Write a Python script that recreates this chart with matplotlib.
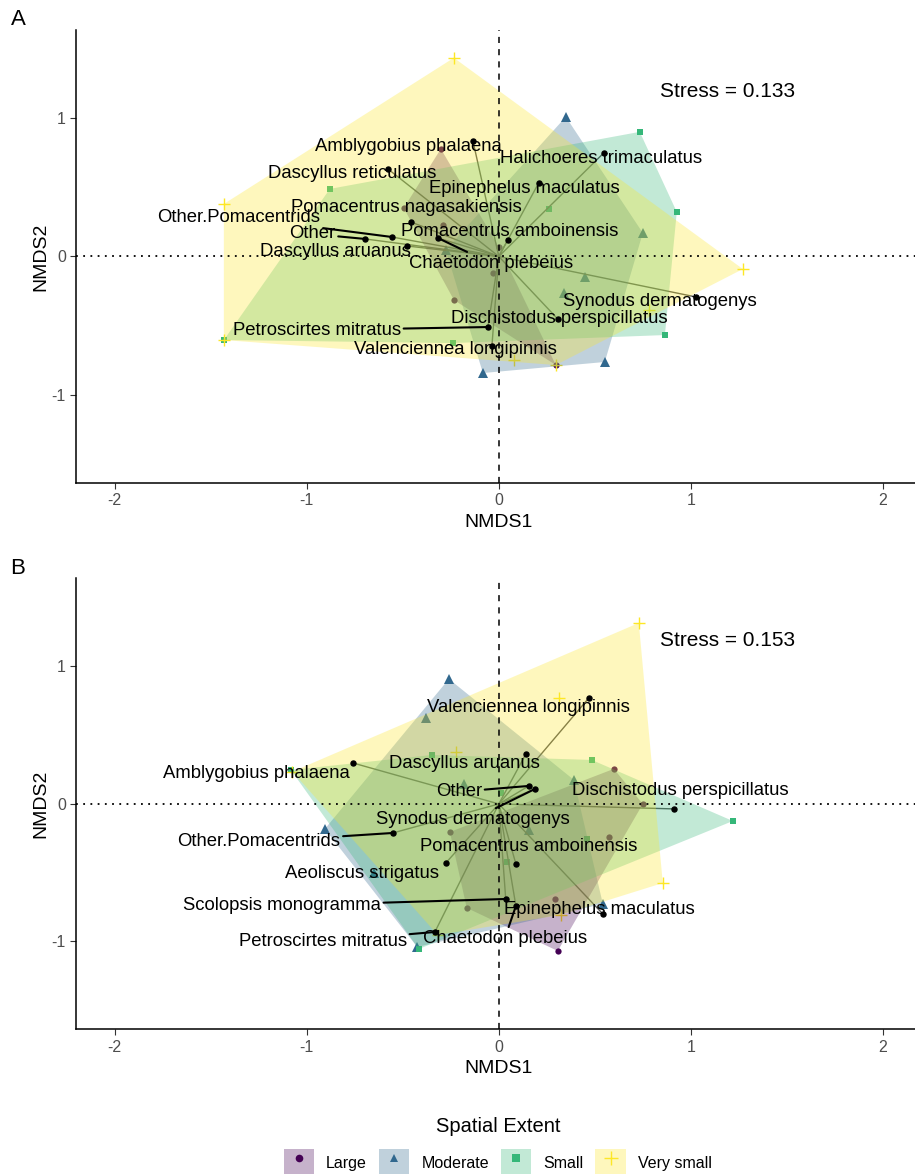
import matplotlib
matplotlib.use("Agg")
import matplotlib.pyplot as plt
from matplotlib.lines import Line2D
from matplotlib.patches import Patch, Polygon

plt.rcParams["font.family"] = ["Liberation Sans", "DejaVu Sans"]
plt.rcParams["axes.unicode_minus"] = False

GROUPS = ["Large", "Moderate", "Small", "Very small"]
GROUP_COLORS = ["#440154", "#31688E", "#35B779", "#FDE725"]
GROUP_MARKERS = ["o", "^", "s", "+"]
GROUP_MS = [4.5, 6.5, 5.0, 8.0]
FILL_ALPHA = 0.3

# ---------- Panel A: site scores per spatial extent ----------
a_large_x = [-0.302, -0.495, -0.292, -0.234, 0.0, -0.031, 0.297]
a_large_y = [0.779, 0.351, 0.228, -0.315, 0.069, -0.120, -0.786]
a_moderate_x = [0.349, 0.750, 0.552, -0.083, 0.448, 0.339, -0.276]
a_moderate_y = [1.011, 0.170, -0.764, -0.844, -0.149, -0.264, 0.047]
a_small_x = [0.734, 0.927, 0.865, -0.880, -1.432, -0.240, 0.260]
a_small_y = [0.902, 0.322, -0.569, 0.489, -0.605, -0.627, 0.344]
a_vsmall_x = [-1.432, -0.234, 1.271, -1.432, 0.297, 0.781, 0.078]
a_vsmall_y = [0.380, 1.438, -0.091, -0.605, -0.786, -0.388, -0.750]

# species vectors (panel A)
a_species = ["Amblygobius phalaena", "Dascyllus reticulatus", "Halichoeres trimaculatus",
             "Epinephelus maculatus", "Pomacentrus nagasakiensis", "Other.Pomacentrids",
             "Other", "Pomacentrus amboinensis", "Dascyllus aruanus", "Chaetodon plebeius",
             "Synodus dermatogenys", "Dischistodus perspicillatus", "Petroscirtes mitratus",
             "Valenciennea longipinnis"]
a_species_x = [-0.135, -0.578, 0.547, 0.208, -0.458, -0.557, -0.698, 0.047, -0.479, -0.318,
               1.026, 0.307, -0.057, -0.036]
a_species_y = [0.837, 0.634, 0.750, 0.533, 0.250, 0.141, 0.127, 0.120, 0.076, 0.134,
               -0.293, -0.453, -0.511, -0.649]
# repelled label positions (panel A) and whether a leader segment is drawn
a_label_x = [-0.469, -0.763, 0.531, 0.135, -0.479, -1.354, -0.971, 0.057, -0.849, -0.042,
             0.839, 0.313, -0.948, -0.224]
a_label_y = [0.796, 0.603, 0.712, 0.494, 0.357, 0.284, 0.163, 0.178, 0.035, -0.049,
             -0.328, -0.448, -0.533, -0.672]
a_leader = [False, False, False, False, False, True, True, False, False, True,
            False, False, True, False]
a_stress = 0.133

# ---------- Panel B ----------
b_large_x = [0.307, 0.599, 0.750, 0.573, 0.292, -0.167, -0.255]
b_large_y = [-1.069, 0.255, 0.0, -0.240, -0.691, -0.756, -0.204]
b_moderate_x = [-0.260, -0.380, -0.906, -0.651, 0.542, 0.391, -0.182, 0.156, -0.425]
b_moderate_y = [0.909, 0.625, -0.182, -0.502, -0.727, 0.175, 0.145, -0.189, -1.040]
b_small_x = [0.484, 1.219, -0.417, -1.083, -0.349, 0.458, 0.042, 0.010]
b_small_y = [0.320, -0.124, -1.055, 0.247, 0.356, -0.255, -0.422, 0.080]
b_vsmall_x = [0.729, 0.313, -0.224, 0.854, -1.075, -0.318, 0.323]
b_vsmall_y = [1.316, 0.771, 0.378, -0.575, 0.235, -0.953, -0.807]

b_species = ["Valenciennea longipinnis", "Dascyllus aruanus", "Amblygobius phalaena",
             "Other", "Synodus dermatogenys", "Dischistodus perspicillatus",
             "Other.Pomacentrids", "Pomacentrus amboinensis", "Aeoliscus strigatus",
             "Scolopsis monogramma", "Epinephelus maculatus", "Chaetodon plebeius",
             "Petroscirtes mitratus"]
b_species_x = [0.469, 0.141, -0.760, 0.156, 0.188, 0.911, -0.552, 0.089, -0.276, 0.036,
               0.542, 0.089, -0.333]
b_species_y = [0.771, 0.364, 0.298, 0.131, 0.109, -0.036, -0.211, -0.436, -0.429, -0.691,
               -0.800, -0.742, -0.931]
b_label_x = [0.156, -0.177, -1.263, -0.208, -0.135, 0.943, -1.250, 0.156, -0.714, -1.130,
             0.526, 0.031, -0.917]
b_label_y = [0.700, 0.291, 0.223, 0.089, -0.113, 0.095, -0.274, -0.313, -0.509, -0.740,
             -0.771, -0.977, -1.001]
b_leader = [False, False, False, True, True, False, True, False, False, True,
            False, True, True]
b_stress = 0.153

XLIM = (-2.2, 2.2)
YLIM = (-1.64, 1.64)


def convex_hull(xs, ys):
    pts = sorted(set(zip(xs, ys)))
    if len(pts) < 3:
        return pts

    def cross(o, a, b):
        return (a[0] - o[0]) * (b[1] - o[1]) - (a[1] - o[1]) * (b[0] - o[0])

    lower = []
    for p in pts:
        while len(lower) >= 2 and cross(lower[-2], lower[-1], p) <= 0:
            lower.pop()
        lower.append(p)
    upper = []
    for p in reversed(pts):
        while len(upper) >= 2 and cross(upper[-2], upper[-1], p) <= 0:
            upper.pop()
        upper.append(p)
    return lower[:-1] + upper[:-1]


def draw_panel(ax, groups_xy, sp_names, sp_x, sp_y, lab_x, lab_y, leaders, stress):
    ax.set_xlim(*XLIM)
    ax.set_ylim(*YLIM)

    # site points (under the hulls, like ggplot layer order)
    for (gx, gy), col, mk, ms in zip(groups_xy, GROUP_COLORS, GROUP_MARKERS, GROUP_MS):
        mew = 1.0 if mk == "+" else 0
        ax.plot(gx, gy, ls="", marker=mk, ms=ms, color=col, mew=mew, zorder=2)

    # species vectors from origin
    for x, y in zip(sp_x, sp_y):
        ax.plot([0, x], [0, y], color="#555555", lw=1.0, zorder=2.5)

    # hulls
    for (gx, gy), col in zip(groups_xy, GROUP_COLORS):
        hull = convex_hull(gx, gy)
        ax.add_patch(Polygon(hull, closed=True, facecolor=col, alpha=FILL_ALPHA,
                             edgecolor="none", zorder=3))

    ax.axvline(0, color="black", lw=1.1, ls=(0, (4, 4)), zorder=4)
    ax.axhline(0, color="black", lw=1.3, ls=(0, (1, 3)), zorder=4)

    ax.plot(sp_x, sp_y, ls="", marker="o", ms=3.6, color="black", zorder=5)

    for name, x, y, lx, ly, lead in zip(sp_names, sp_x, sp_y, lab_x, lab_y, leaders):
        arrow = None
        if lead:
            arrow = dict(arrowstyle="-", color="black", lw=1.5, shrinkA=0, shrinkB=0)
        ax.annotate(name, xy=(x, y), xytext=(lx, ly), fontsize=13.3, ha="center",
                    va="center", color="black", zorder=6, arrowprops=arrow)

    ax.text(1.193, 1.192, f"Stress = {stress}", fontsize=15, ha="center", va="center")

    ax.set_xticks([-2, -1, 0, 1, 2])
    ax.set_yticks([-1, 0, 1])
    ax.tick_params(labelsize=11.5, labelcolor="#4D4D4D", color="#333333", length=4, width=0.8)
    ax.set_xlabel("NMDS1", fontsize=14)
    ax.set_ylabel("NMDS2", fontsize=14, labelpad=2)
    for side in ["top", "right"]:
        ax.spines[side].set_visible(False)
    for side in ["left", "bottom"]:
        ax.spines[side].set_linewidth(1.1)


fig = plt.figure(figsize=(9.15, 11.74), dpi=100)
ax_a = fig.add_axes([0.0835, 0.5886, 0.9233, 0.3859])
ax_b = fig.add_axes([0.0835, 0.1231, 0.9233, 0.3842])

groups_a = [(a_large_x, a_large_y), (a_moderate_x, a_moderate_y),
            (a_small_x, a_small_y), (a_vsmall_x, a_vsmall_y)]
groups_b = [(b_large_x, b_large_y), (b_moderate_x, b_moderate_y),
            (b_small_x, b_small_y), (b_vsmall_x, b_vsmall_y)]

draw_panel(ax_a, groups_a, a_species, a_species_x, a_species_y,
           a_label_x, a_label_y, a_leader, a_stress)
draw_panel(ax_b, groups_b, b_species, b_species_x, b_species_y,
           b_label_x, b_label_y, b_leader, b_stress)

fig.text(0.0197, 0.983, "A", fontsize=16, ha="center", va="center")
fig.text(0.0197, 0.5155, "B", fontsize=16, ha="center", va="center")

handles = []
for col, mk in zip(GROUP_COLORS, GROUP_MARKERS):
    patch = Patch(facecolor=col, alpha=FILL_ALPHA, edgecolor="none")
    mark = Line2D([], [], ls="", marker=mk, color=col, ms=5.5 if mk != "+" else 10,
                  mew=1.0 if mk == "+" else 0)
    handles.append((patch, mark))

fig.legend(handles, GROUPS, loc="center", bbox_to_anchor=(0.544, 0.0235), ncol=4,
           frameon=False, title="Spatial Extent", title_fontsize=14.5, fontsize=11.5,
           handlelength=1.9, handleheight=2.22, handletextpad=0.75, columnspacing=0.75,
           labelspacing=0.85)

fig.savefig("out.png", dpi=100)
